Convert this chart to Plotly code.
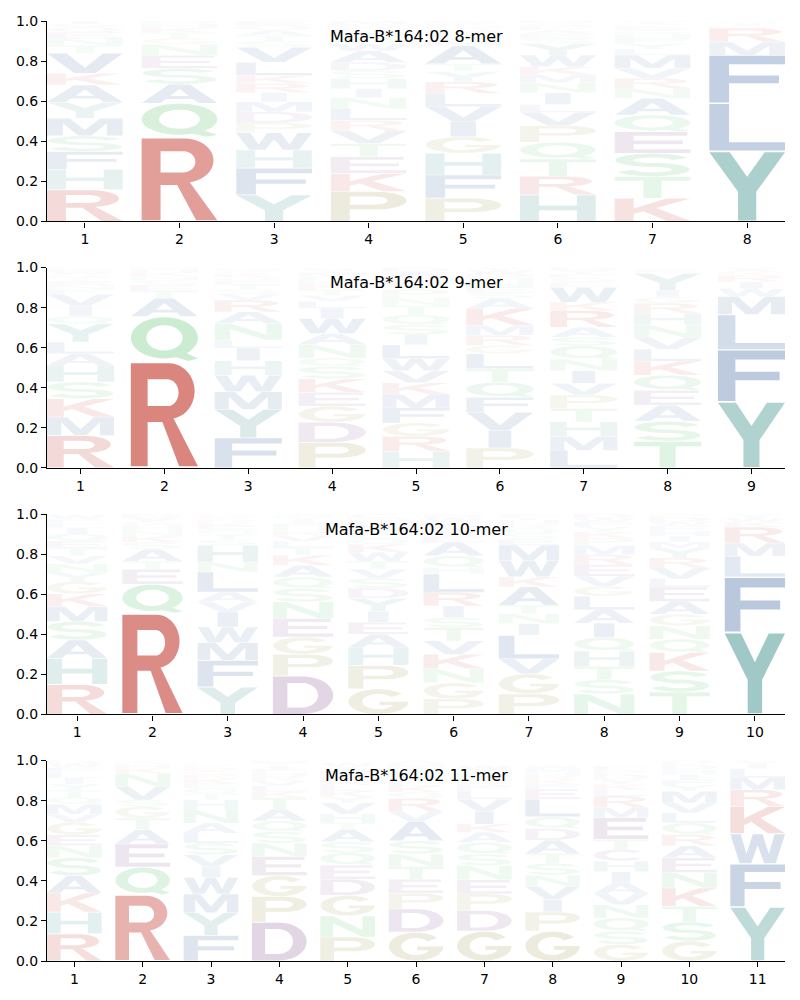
import numpy as np
import plotly.graph_objects as go
from plotly.subplots import make_subplots

# Letters of each position, bottom -> top, with their stack heights (probability)
mer8_letters = ["RHFSMYAKVTNEQGI", "RQASENGTKHD", "YFHWPDMIRKLVSTAQE", "PKETVRLNIHSDAWQYGFM",
                "PFHGIVLRYTAMSEQNKWD", "HRTQPVLINMKWYSEAFGD", "KTSEQANRVMLYFHGDPIW", "YLFMRKIWV"]
mer8_heights = [
    [.158, .103, .088, .078, .088, .08, .086, .058, .1, .04, .035, .03, .025, .02, .016],
    [.42, .17, .095, .078, .066, .055, .03, .028, .025, .02, .013],
    [.133, .133, .09, .086, .05, .055, .05, .046, .045, .04, .066, .075, .03, .028, .027, .025, .021],
    [.15, .09, .083, .066, .063, .053, .058, .055, .045, .05, .04, .04, .058, .035, .03, .03, .025, .015, .014],
    [.116, .116, .108, .083, .075, .075, .066, .058, .05, .04, .09, .025, .022, .02, .018, .015, .012, .007, .004],
    [.133, .093, .086, .083, .083, .066, .04, .058, .05, .04, .04, .058, .058, .025, .022, .02, .018, .015, .012],
    [.116, .108, .116, .108, .083, .083, .05, .05, .05, .066, .03, .028, .025, .022, .02, .016, .012, .01, .007],
    [.35, .24, .24, .065, .07, .012, .01, .008, .005],
]

mer9_letters = ["RMKSHALYQIVFNETGWDP", "RQATESNKHM", "FYMWHILNARVSTEQKGDP", "PDGEKSQNAWILVTRHFMYC",
                "HRGFMKVWLISQTNPYEAD", "PIVFQTLGRMKASENHDWY", "LMHTPVINQSARKWEGFYD",
                "TSAEQKLVNHRGIYDF", "YFLMWIRKAV"]
mer9_heights = [
    [.162, .092, .092, .083, .083, .058, .058, .09, .04, .05, .058, .025, .022, .02, .018, .016, .013, .011, .009],
    [.53, .225, .092, .035, .03, .025, .02, .018, .015, .01],
    [.15, .142, .088, .083, .072, .063, .04, .083, .058, .058, .03, .025, .022, .02, .018, .016, .013, .011, .008],
    [.128, .1, .08, .07, .067, .062, .042, .067, .055, .075, .05, .035, .03, .028, .026, .022, .02, .017, .014, .012],
    [.083, .075, .067, .075, .067, .058, .06, .06, .07, .05, .05, .05, .045, .04, .04, .03, .03, .028, .022],
    [.1, .088, .09, .075, .075, .067, .075, .042, .05, .05, .083, .05, .03, .028, .025, .022, .02, .016, .014],
    [.088, .07, .072, .067, .067, .058, .063, .058, .067, .042, .05, .083, .042, .075, .025, .022, .02, .018, .015],
    [.133, .1, .08, .075, .075, .07, .06, .057, .063, .058, .05, .033, .033, .083, .01, .01],
    [.33, .26, .175, .09, .04, .033, .033, .015, .012, .012],
]

mer10_letters = ["RHASMKGYNVTEQILFW", "RQETASKNHGVD", "YFMWIVALNHSTQEKRGDP", "DPGENSQAKTLVRHFIYMW",
                 "GPHAEIYDSVTWKQLFMRNC", "PGNKVTSIRLHQAEYMFWD", "PGVLINTAKWMESQRHYFD",
                 "NSTHQIALGVERMPKYFWD", "TSKQNGAELVRYMIHFWDP", "YFLMRKWIV"]
mer10_heights = [
    [.15, .13, .092, .092, .075, .063, .062, .042, .045, .04, .04, .035, .035, .03, .025, .02, .02],
    [.505, .145, .075, .04, .06, .035, .03, .028, .025, .02, .02, .017],
    [.137, .133, .088, .078, .075, .05, .05, .1, .05, .083, .028, .025, .022, .02, .018, .015, .012, .01, .005],
    [.192, .108, .087, .092, .083, .067, .057, .058, .05, .04, .03, .027, .024, .02, .018, .016, .013, .01, .008],
    [.128, .117, .09, .065, .06, .055, .065, .05, .05, .045, .04, .045, .04, .028, .025, .022, .02, .018, .017, .02],
    [.078, .08, .07, .072, .067, .067, .05, .058, .067, .092, .033, .058, .067, .03, .027, .025, .022, .018, .016],
    [.103, .1, .075, .117, .058, .05, .042, .092, .05, .083, .075, .03, .028, .025, .022, .02, .015, .01, .005],
    [.103, .07, .067, .077, .067, .072, .067, .067, .05, .05, .058, .05, .045, .038, .03, .025, .025, .02, .02],
    [.112, .105, .092, .067, .067, .058, .063, .072, .042, .053, .05, .05, .03, .028, .027, .025, .022, .02, .017],
    [.41, .275, .105, .065, .08, .025, .02, .01, .01],
]

mer11_letters = ["RHKASNEGVMQTYILFWD", "RQEATGSVNKHDY", "FYMWIVSLANHTQEKRGDP", "DPGENSQATKLVRHFIYMW",
                 "PNGDEQSATHVYKLRFMIW", "GDPETNSAVRQKLYFIMHW", "GDPENSQAKIVLFRHMTW",
                 "GPIVNSTADQLEFKRHMW", "GSQNVAIHCTEMRLKYDPF", "GSTKNEARQLVMYFIHDPW", "YFWKRMLIV"]
mer11_heights = [
    [.136, .108, .095, .086, .091, .06, .053, .063, .04, .05, .035, .035, .03, .03, .028, .025, .02, .015],
    [.33, .138, .116, .071, .058, .058, .033, .066, .066, .025, .02, .012, .008],
    [.128, .113, .093, .083, .055, .058, .058, .05, .05, .066, .05, .03, .028, .025, .023, .02, .018, .017, .015],
    [.194, .128, .104, .096, .066, .058, .053, .058, .058, .03, .028, .025, .022, .02, .018, .016, .014, .012],
    [.12, .105, .103, .08, .071, .061, .055, .061, .033, .045, .055, .03, .03, .028, .026, .024, .022, .02, .02],
    [.144, .116, .078, .07, .063, .063, .066, .096, .05, .066, .03, .03, .028, .025, .022, .018, .015, .012, .008],
    [.149, .103, .083, .07, .071, .058, .058, .05, .041, .064, .06, .041, .025, .022, .02, .02, .02, .019],
    [.149, .096, .063, .063, .058, .058, .05, .066, .058, .058, .088, .05, .025, .022, .02, .018, .018, .015],
    [.083, .066, .066, .066, .055, .055, .055, .053, .058, .05, .108, .05, .058, .03, .028, .025, .025, .022, .02],
    [.1, .095, .078, .091, .078, .073, .06, .056, .058, .05, .05, .058, .03, .028, .025, .025, .022, .02, .02],
    [.27, .215, .15, .135, .085, .06, .045, .025, .015],
]

titles = ["Mafa-B*164:02 8-mer", "Mafa-B*164:02 9-mer", "Mafa-B*164:02 10-mer", "Mafa-B*164:02 11-mer"]

# residue colour groups
group_rgb = {
    "red": (200, 75, 65), "teal": (70, 150, 145), "blue": (60, 100, 160),
    "green": (80, 190, 100), "purple": (140, 90, 150), "beige": (160, 155, 80),
}
residue_group = {}
for g, aas in [("red", "RK"), ("teal", "YH"), ("blue", "AFILMVW"),
               ("green", "NQST"), ("purple", "DEC"), ("beige", "GP")]:
    for a in aas:
        residue_group[a] = g


def arc(cx, cy, rx, ry, a0, a1, n=22):
    t = np.radians(np.linspace(a0, a1, n))
    return [(cx + rx * np.cos(a), cy + ry * np.sin(a)) for a in t]


def s_outline():
    top = arc(0.5, 0.7075, 0.37, 0.2075, 15, 270, 26)
    bot = arc(0.5, 0.2925, 0.37, 0.2075, 90, -165, 26)
    c = np.array(top + bot[1:])
    d = np.gradient(c, axis=0)
    nrm = np.stack([-d[:, 1], d[:, 0]], axis=1)
    nrm /= np.linalg.norm(nrm, axis=1, keepdims=True)
    off = nrm * np.array([0.12, 0.085])
    pts = np.vstack([c + off, (c - off)[::-1]])
    return [list(map(tuple, pts))]


# glyph outlines in a unit box (bold sans letters)
GLYPHS = {
    "A": [[(0, 0), (0.36, 1), (0.64, 1), (1, 0), (0.75, 0), (0.68, 0.21), (0.32, 0.21), (0.25, 0)],
          [(0.375, 0.37), (0.625, 0.37), (0.5, 0.75)]],
    "C": [arc(0.5, 0.5, 0.5, 0.5, 40, 320) + arc(0.5, 0.5, 0.27, 0.31, 320, 40)],
    "D": [[(0, 0), (0, 1), (0.5, 1)] + arc(0.5, 0.5, 0.5, 0.5, 90, -90),
          [(0.24, 0.17), (0.24, 0.83), (0.48, 0.83)] + arc(0.48, 0.5, 0.27, 0.33, 90, -90)],
    "E": [[(0, 0), (0, 1), (0.96, 1), (0.96, 0.82), (0.25, 0.82), (0.25, 0.59), (0.9, 0.59),
           (0.9, 0.42), (0.25, 0.42), (0.25, 0.18), (1, 0.18), (1, 0)]],
    "F": [[(0, 0), (0, 1), (1, 1), (1, 0.82), (0.26, 0.82), (0.26, 0.58), (0.92, 0.58),
           (0.92, 0.41), (0.26, 0.41), (0.26, 0)]],
    "G": [arc(0.5, 0.5, 0.5, 0.5, 38, 360) + [(0.52, 0.5), (0.52, 0.37)]
          + arc(0.5, 0.5, 0.27, 0.31, -25, -322)],
    "H": [[(0, 0), (0, 1), (0.25, 1), (0.25, 0.6), (0.75, 0.6), (0.75, 1), (1, 1), (1, 0),
           (0.75, 0), (0.75, 0.42), (0.25, 0.42), (0.25, 0)]],
    "I": [[(0.33, 0), (0.33, 1), (0.67, 1), (0.67, 0)]],
    "K": [[(0, 0), (0, 1), (0.25, 1), (0.25, 0.56), (0.68, 1), (1, 1), (0.55, 0.58), (1, 0),
           (0.69, 0), (0.38, 0.44), (0.25, 0.31), (0.25, 0)]],
    "L": [[(0, 0), (0, 1), (0.26, 1), (0.26, 0.18), (1, 0.18), (1, 0)]],
    "M": [[(0, 0), (0, 1), (0.3, 1), (0.5, 0.33), (0.7, 1), (1, 1), (1, 0), (0.79, 0),
           (0.79, 0.72), (0.59, 0), (0.41, 0), (0.21, 0.72), (0.21, 0)]],
    "N": [[(0, 0), (0, 1), (0.24, 1), (0.77, 0.33), (0.77, 1), (1, 1), (1, 0), (0.76, 0),
           (0.23, 0.67), (0.23, 0)]],
    "P": [[(0, 0), (0, 1), (0.6, 1)] + arc(0.6, 0.7, 0.4, 0.3, 90, -90) + [(0.25, 0.4), (0.25, 0)],
          [(0.25, 0.56), (0.25, 0.84), (0.58, 0.84)] + arc(0.58, 0.7, 0.17, 0.14, 90, -90)],
    "Q": [arc(0.5, 0.53, 0.5, 0.47, -48, 290, 40) + [(0.86, 0.0), (1.0, 0.06)],
          arc(0.5, 0.53, 0.27, 0.29, 0, 360, 40)],
    "R": [[(0, 0), (0, 1), (0.57, 1)] + arc(0.57, 0.73, 0.38, 0.27, 90, -80)
          + [(1, 0), (0.72, 0), (0.47, 0.43), (0.25, 0.43), (0.25, 0)],
          [(0.25, 0.585), (0.25, 0.845), (0.55, 0.845)] + arc(0.55, 0.715, 0.16, 0.13, 90, -90)],
    "S": s_outline(),
    "T": [[(0, 1), (1, 1), (1, 0.82), (0.62, 0.82), (0.62, 0), (0.38, 0), (0.38, 0.82), (0, 0.82)]],
    "V": [[(0, 1), (0.26, 1), (0.5, 0.27), (0.74, 1), (1, 1), (0.64, 0), (0.36, 0)]],
    "W": [[(0, 1), (0.19, 1), (0.295, 0.32), (0.41, 1), (0.59, 1), (0.705, 0.32), (0.81, 1),
           (1, 1), (0.83, 0), (0.62, 0), (0.5, 0.62), (0.38, 0), (0.17, 0)]],
    "Y": [[(0, 1), (0.27, 1), (0.5, 0.64), (0.73, 1), (1, 1), (0.62, 0.42), (0.62, 0),
           (0.38, 0), (0.38, 0.42)]],
}


def glyph_path(ch, x0, w, y0, h):
    parts = []
    for poly in GLYPHS[ch]:
        pts = ["%.4f,%.4f" % (x0 + u * w, y0 + v * h) for u, v in poly]
        parts.append("M" + "L".join(pts) + "Z")
    return "".join(parts)


def letter_color(ch, h):
    r, g, b = group_rgb[residue_group[ch]]
    a = min(0.85, 0.01 + 1.25 * h)
    return "rgba(%d,%d,%d,%.3f)" % (r, g, b, a)


panels = [
    (titles[0], mer8_letters, mer8_heights),
    (titles[1], mer9_letters, mer9_heights),
    (titles[2], mer10_letters, mer10_heights),
    (titles[3], mer11_letters, mer11_heights),
]

fig = make_subplots(rows=4, cols=1, vertical_spacing=0.049)

font = "DejaVu Sans"
shapes = []
for i, (title, letters, heights) in enumerate(panels, start=1):
    sfx = "" if i == 1 else str(i)
    n = len(letters)
    for pos, (seq, hs) in enumerate(zip(letters, heights), start=1):
        y0 = 0.0
        for ch, h in zip(seq, hs):
            shapes.append(dict(
                type="path", path=glyph_path(ch, pos - 0.4, 0.8, y0 + 0.015 * h, 0.97 * h),
                xref="x" + sfx, yref="y" + sfx, fillcolor=letter_color(ch, h),
                line=dict(width=0), layer="below"))
            y0 += h

    fig.add_annotation(text=title, x=0.5, y=0.925, xref="x%s domain" % sfx, yref="y%s domain" % sfx,
                       showarrow=False, yanchor="middle", xanchor="center",
                       font=dict(family=font, size=16, color="black"))

    fig.update_xaxes(range=[0.6, n + 0.4], tickvals=list(range(1, n + 1)),
                     showline=True, linecolor="black", linewidth=1.1,
                     ticks="outside", ticklen=5, tickwidth=1.1, tickcolor="black",
                     showgrid=False, zeroline=False, automargin=False,
                     tickfont=dict(family=font, size=14, color="black"), row=i, col=1)
    fig.update_yaxes(range=[0, 1], tickvals=[0, 0.2, 0.4, 0.6, 0.8, 1.0], tickformat=".1f",
                     showline=True, linecolor="black", linewidth=1.1,
                     ticks="outside", ticklen=5, tickwidth=1.1, tickcolor="black",
                     showgrid=False, zeroline=False, automargin=False,
                     tickfont=dict(family=font, size=14, color="black"), row=i, col=1)

# the page body adds an 8px offset, so the margins are shifted to compensate
fig.update_layout(
    width=800, height=1000,
    margin=dict(l=39, r=23, t=13, b=47),
    shapes=shapes,
    showlegend=False,
    plot_bgcolor="white",
    paper_bgcolor="white",
    font=dict(family=font),
)

fig.write_html("out.html")
